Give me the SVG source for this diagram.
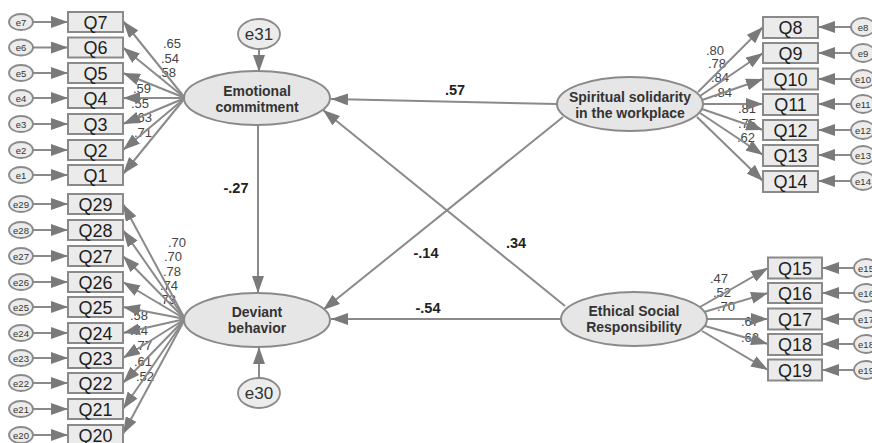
<svg xmlns="http://www.w3.org/2000/svg" width="872" height="443" viewBox="0 0 872 443">
<defs>
<marker id="ah" viewBox="0 0 17 12" refX="17" refY="6" markerWidth="17" markerHeight="12" markerUnits="userSpaceOnUse" orient="auto">
<path d="M0,0 L17,6 L0,12 z" fill="#7a7a7a"/>
</marker>
<style>
.c line{stroke:#8a8a8a;stroke-width:2;marker-end:url(#ah);fill:none}
.box{fill:#ebebeb;stroke:#8a8a8a;stroke-width:2}
.bt{font-family:"Liberation Sans",Arial,sans-serif;font-size:18px;fill:#1e1e1e;text-anchor:middle}
.err{fill:#ececec;stroke:#8a8a8a;stroke-width:1.8}
.et{font-family:"Liberation Sans",Arial,sans-serif;font-size:9.5px;fill:#333;text-anchor:middle}
.eb{font-family:"Liberation Sans",Arial,sans-serif;font-size:17px;fill:#333;text-anchor:middle}
.lat{fill:#e6e6e6;stroke:#8a8a8a;stroke-width:2}
.lt{font-family:"Liberation Sans",Arial,sans-serif;font-size:14px;font-weight:bold;fill:#333;text-anchor:middle}
.ld{font-family:"Liberation Sans",Arial,sans-serif;font-size:13px;fill:#444;text-anchor:middle}
.sd{font-family:"Liberation Sans",Arial,sans-serif;font-size:14.5px;font-weight:bold;fill:#222;text-anchor:middle}
</style>
</defs>
<rect width="872" height="443" fill="#ffffff"/>

<g id="loading-labels">
<text class="ld" x="172" y="48">.65</text>
<text class="ld" x="170" y="63">.54</text>
<text class="ld" x="167" y="77">.58</text>
<text class="ld" x="142" y="93">.59</text>
<text class="ld" x="140" y="108">.55</text>
<text class="ld" x="143" y="122">.63</text>
<text class="ld" x="143" y="137">.71</text>
<text class="ld" x="177" y="247">.70</text>
<text class="ld" x="173" y="261">.70</text>
<text class="ld" x="172" y="276">.78</text>
<text class="ld" x="169" y="290">.74</text>
<text class="ld" x="167" y="304">.73</text>
<text class="ld" x="139" y="320">.58</text>
<text class="ld" x="139" y="335">.74</text>
<text class="ld" x="143" y="350">.77</text>
<text class="ld" x="143" y="366">.61</text>
<text class="ld" x="145" y="381">.52</text>
<text class="ld" x="715" y="55">.80</text>
<text class="ld" x="717" y="68">.78</text>
<text class="ld" x="720" y="82">.84</text>
<text class="ld" x="723" y="97">.84</text>
<text class="ld" x="747" y="113">.81</text>
<text class="ld" x="747" y="128">.75</text>
<text class="ld" x="746" y="142">.62</text>
<text class="ld" x="719" y="283">.47</text>
<text class="ld" x="722" y="297">.52</text>
<text class="ld" x="726" y="311">.70</text>
<text class="ld" x="750" y="326">.67</text>
<text class="ld" x="750" y="342">.62</text>
</g>

<g id="connectors" class="c">
<line x1="33" y1="22" x2="68" y2="22"/>
<line x1="33" y1="47.5" x2="68" y2="47.5"/>
<line x1="33" y1="73" x2="68" y2="73"/>
<line x1="33" y1="98" x2="68" y2="98"/>
<line x1="33" y1="124" x2="68" y2="124"/>
<line x1="33" y1="150" x2="68" y2="150"/>
<line x1="33" y1="175" x2="68" y2="175"/>
<line x1="33" y1="204" x2="68" y2="204"/>
<line x1="33" y1="230" x2="68" y2="230"/>
<line x1="33" y1="256" x2="68" y2="256"/>
<line x1="33" y1="282" x2="68" y2="282"/>
<line x1="33" y1="307" x2="68" y2="307"/>
<line x1="33" y1="333" x2="68" y2="333"/>
<line x1="33" y1="358" x2="68" y2="358"/>
<line x1="33" y1="383" x2="68" y2="383"/>
<line x1="33" y1="409" x2="68" y2="409"/>
<line x1="33" y1="435" x2="68" y2="435"/>
<line x1="851" y1="27" x2="818" y2="27"/>
<line x1="851" y1="53" x2="818" y2="53"/>
<line x1="851" y1="79" x2="818" y2="79"/>
<line x1="851" y1="104" x2="818" y2="104"/>
<line x1="851" y1="130" x2="818" y2="130"/>
<line x1="851" y1="155" x2="818" y2="155"/>
<line x1="851" y1="181" x2="818" y2="181"/>
<line x1="854" y1="268" x2="822" y2="268"/>
<line x1="854" y1="293" x2="822" y2="293"/>
<line x1="854" y1="319" x2="822" y2="319"/>
<line x1="854" y1="344" x2="822" y2="344"/>
<line x1="854" y1="370" x2="822" y2="370"/>
<line x1="185" y1="98" x2="123" y2="21"/>
<line x1="185" y1="98" x2="123" y2="47.5"/>
<line x1="185" y1="98" x2="123" y2="73"/>
<line x1="185" y1="98" x2="123" y2="98"/>
<line x1="185" y1="98" x2="123" y2="124"/>
<line x1="185" y1="98" x2="123" y2="150"/>
<line x1="185" y1="98" x2="123" y2="174"/>
<line x1="185" y1="319" x2="123" y2="204"/>
<line x1="185" y1="319" x2="123" y2="230"/>
<line x1="185" y1="319" x2="123" y2="256"/>
<line x1="185" y1="319" x2="123" y2="282"/>
<line x1="185" y1="319" x2="123" y2="307"/>
<line x1="185" y1="319" x2="123" y2="333"/>
<line x1="185" y1="319" x2="123" y2="358"/>
<line x1="185" y1="319" x2="123" y2="383"/>
<line x1="185" y1="319" x2="123" y2="409"/>
<line x1="185" y1="319" x2="123" y2="434"/>
<line x1="698" y1="92" x2="763" y2="27"/>
<line x1="700" y1="96" x2="763" y2="53"/>
<line x1="702" y1="100" x2="763" y2="79"/>
<line x1="703" y1="104" x2="763" y2="104"/>
<line x1="702" y1="109" x2="763" y2="130"/>
<line x1="700" y1="113" x2="763" y2="155"/>
<line x1="697" y1="117" x2="763" y2="181"/>
<line x1="700" y1="307" x2="768" y2="268"/>
<line x1="704" y1="312" x2="768" y2="293"/>
<line x1="707" y1="319" x2="768" y2="319"/>
<line x1="705" y1="326" x2="768" y2="344"/>
<line x1="702" y1="331" x2="768" y2="370"/>
<line x1="259" y1="49" x2="259" y2="72"/>
<line x1="259" y1="378" x2="259" y2="347"/>
<line x1="557" y1="104" x2="331" y2="99"/>
<line x1="258" y1="125" x2="258" y2="293"/>
<line x1="565" y1="306" x2="323" y2="110"/>
<line x1="563" y1="117" x2="323" y2="310"/>
<line x1="561" y1="319" x2="331" y2="319"/>
</g>

<g id="path-labels">
<text class="sd" x="455" y="95">.57</text>
<text class="sd" x="236" y="193">-.27</text>
<text class="sd" x="426" y="258">-.14</text>
<text class="sd" x="516" y="248">.34</text>
<text class="sd" x="428" y="313">-.54</text>
</g>

<g id="emotional"><ellipse class="lat" cx="257" cy="98" rx="73" ry="27"/><text class="lt" x="257" y="96">Emotional</text><text class="lt" x="257" y="112">commitment</text></g>
<g id="deviant"><ellipse class="lat" cx="257" cy="320" rx="73" ry="27"/><text class="lt" x="257" y="317">Deviant</text><text class="lt" x="257" y="333">behavior</text></g>
<g id="spiritual"><ellipse class="lat" cx="630" cy="104" rx="73" ry="27"/><text class="lt" x="630" y="102">Spiritual solidarity</text><text class="lt" x="630" y="118">in the workplace</text></g>
<g id="ethical"><ellipse class="lat" cx="634" cy="319" rx="73" ry="27"/><text class="lt" x="634" y="316">Ethical Social</text><text class="lt" x="634" y="332">Responsibility</text></g>

<g id="e31"><ellipse class="err" cx="259" cy="34" rx="21" ry="15"/><text class="eb" x="259" y="40">e31</text></g>
<g id="e30"><ellipse class="err" cx="259" cy="393" rx="21" ry="15"/><text class="eb" x="259" y="399">e30</text></g>

<g id="Q7"><rect class="box" x="68" y="12" width="55" height="20"/><text class="bt" x="95.5" y="28.5">Q7</text></g>
<g id="Q6"><rect class="box" x="68" y="37.5" width="55" height="20"/><text class="bt" x="95.5" y="54">Q6</text></g>
<g id="Q5"><rect class="box" x="68" y="63" width="55" height="20"/><text class="bt" x="95.5" y="79.5">Q5</text></g>
<g id="Q4"><rect class="box" x="68" y="88" width="55" height="20"/><text class="bt" x="95.5" y="104.5">Q4</text></g>
<g id="Q3"><rect class="box" x="68" y="114" width="55" height="20"/><text class="bt" x="95.5" y="130.5">Q3</text></g>
<g id="Q2"><rect class="box" x="68" y="140" width="55" height="20"/><text class="bt" x="95.5" y="156.5">Q2</text></g>
<g id="Q1"><rect class="box" x="68" y="165" width="55" height="20"/><text class="bt" x="95.5" y="181.5">Q1</text></g>

<g id="Q29"><rect class="box" x="68" y="194" width="55" height="20"/><text class="bt" x="95.5" y="210.5">Q29</text></g>
<g id="Q28"><rect class="box" x="68" y="220" width="55" height="20"/><text class="bt" x="95.5" y="236.5">Q28</text></g>
<g id="Q27"><rect class="box" x="68" y="246" width="55" height="20"/><text class="bt" x="95.5" y="262.5">Q27</text></g>
<g id="Q26"><rect class="box" x="68" y="272" width="55" height="20"/><text class="bt" x="95.5" y="288.5">Q26</text></g>
<g id="Q25"><rect class="box" x="68" y="297" width="55" height="20"/><text class="bt" x="95.5" y="313.5">Q25</text></g>
<g id="Q24"><rect class="box" x="68" y="323" width="55" height="20"/><text class="bt" x="95.5" y="339.5">Q24</text></g>
<g id="Q23"><rect class="box" x="68" y="348" width="55" height="20"/><text class="bt" x="95.5" y="364.5">Q23</text></g>
<g id="Q22"><rect class="box" x="68" y="373" width="55" height="20"/><text class="bt" x="95.5" y="389.5">Q22</text></g>
<g id="Q21"><rect class="box" x="68" y="399" width="55" height="20"/><text class="bt" x="95.5" y="415.5">Q21</text></g>
<g id="Q20"><rect class="box" x="68" y="425" width="55" height="20"/><text class="bt" x="95.5" y="441.5">Q20</text></g>

<g id="Q8"><rect class="box" x="763" y="17" width="55" height="21"/><text class="bt" x="790.5" y="34">Q8</text></g>
<g id="Q9"><rect class="box" x="763" y="43" width="55" height="20"/><text class="bt" x="790.5" y="59.5">Q9</text></g>
<g id="Q10"><rect class="box" x="763" y="68.5" width="55" height="21"/><text class="bt" x="790.5" y="85.5">Q10</text></g>
<g id="Q11"><rect class="box" x="763" y="94" width="55" height="21"/><text class="bt" x="790.5" y="111">Q11</text></g>
<g id="Q12"><rect class="box" x="763" y="120" width="55" height="20"/><text class="bt" x="790.5" y="136.5">Q12</text></g>
<g id="Q13"><rect class="box" x="763" y="145" width="55" height="21"/><text class="bt" x="790.5" y="162">Q13</text></g>
<g id="Q14"><rect class="box" x="763" y="171" width="55" height="21"/><text class="bt" x="790.5" y="188">Q14</text></g>

<g id="Q15"><rect class="box" x="768" y="257.5" width="54" height="21"/><text class="bt" x="795" y="274.5">Q15</text></g>
<g id="Q16"><rect class="box" x="768" y="283" width="54" height="20"/><text class="bt" x="795" y="299.5">Q16</text></g>
<g id="Q17"><rect class="box" x="768" y="308.5" width="54" height="21"/><text class="bt" x="795" y="325.5">Q17</text></g>
<g id="Q18"><rect class="box" x="768" y="334" width="54" height="21"/><text class="bt" x="795" y="351">Q18</text></g>
<g id="Q19"><rect class="box" x="768" y="359.5" width="54" height="21"/><text class="bt" x="795" y="376.5">Q19</text></g>

<g id="e7"><ellipse class="err" cx="21" cy="22" rx="12" ry="8"/><text class="et" x="21" y="25.5">e7</text></g>
<g id="e6"><ellipse class="err" cx="21" cy="47.5" rx="12" ry="8"/><text class="et" x="21" y="51">e6</text></g>
<g id="e5"><ellipse class="err" cx="21" cy="73" rx="12" ry="8"/><text class="et" x="21" y="76.5">e5</text></g>
<g id="e4"><ellipse class="err" cx="21" cy="98" rx="12" ry="8"/><text class="et" x="21" y="101.5">e4</text></g>
<g id="e3"><ellipse class="err" cx="21" cy="124" rx="12" ry="8"/><text class="et" x="21" y="127.5">e3</text></g>
<g id="e2"><ellipse class="err" cx="21" cy="150" rx="12" ry="8"/><text class="et" x="21" y="153.5">e2</text></g>
<g id="e1"><ellipse class="err" cx="21" cy="175" rx="12" ry="8"/><text class="et" x="21" y="178.5">e1</text></g>

<g id="e29"><ellipse class="err" cx="21" cy="204" rx="12" ry="8"/><text class="et" x="21" y="207.5">e29</text></g>
<g id="e28"><ellipse class="err" cx="21" cy="230" rx="12" ry="8"/><text class="et" x="21" y="233.5">e28</text></g>
<g id="e27"><ellipse class="err" cx="21" cy="256" rx="12" ry="8"/><text class="et" x="21" y="259.5">e27</text></g>
<g id="e26"><ellipse class="err" cx="21" cy="282" rx="12" ry="8"/><text class="et" x="21" y="285.5">e26</text></g>
<g id="e25"><ellipse class="err" cx="21" cy="307" rx="12" ry="8"/><text class="et" x="21" y="310.5">e25</text></g>
<g id="e24"><ellipse class="err" cx="21" cy="333" rx="12" ry="8"/><text class="et" x="21" y="336.5">e24</text></g>
<g id="e23"><ellipse class="err" cx="21" cy="358" rx="12" ry="8"/><text class="et" x="21" y="361.5">e23</text></g>
<g id="e22"><ellipse class="err" cx="21" cy="383" rx="12" ry="8"/><text class="et" x="21" y="386.5">e22</text></g>
<g id="e21"><ellipse class="err" cx="21" cy="409" rx="12" ry="8"/><text class="et" x="21" y="412.5">e21</text></g>
<g id="e20"><ellipse class="err" cx="21" cy="435" rx="12" ry="8"/><text class="et" x="21" y="438.5">e20</text></g>

<g id="e8"><ellipse class="err" cx="863" cy="27" rx="12" ry="9"/><text class="et" x="863" y="30.5">e8</text></g>
<g id="e9"><ellipse class="err" cx="863" cy="53" rx="12" ry="9"/><text class="et" x="863" y="56.5">e9</text></g>
<g id="e10"><ellipse class="err" cx="863" cy="79" rx="12" ry="9"/><text class="et" x="863" y="82.5">e10</text></g>
<g id="e11"><ellipse class="err" cx="863" cy="104" rx="12" ry="9"/><text class="et" x="863" y="107.5">e11</text></g>
<g id="e12"><ellipse class="err" cx="863" cy="130" rx="12" ry="9"/><text class="et" x="863" y="133.5">e12</text></g>
<g id="e13"><ellipse class="err" cx="863" cy="155" rx="12" ry="9"/><text class="et" x="863" y="158.5">e13</text></g>
<g id="e14"><ellipse class="err" cx="863" cy="181" rx="12" ry="9"/><text class="et" x="863" y="184.5">e14</text></g>

<g id="e15"><ellipse class="err" cx="866" cy="268" rx="12" ry="9"/><text class="et" x="866" y="271.5">e15</text></g>
<g id="e16"><ellipse class="err" cx="866" cy="293" rx="12" ry="9"/><text class="et" x="866" y="296.5">e16</text></g>
<g id="e17"><ellipse class="err" cx="866" cy="319" rx="12" ry="9"/><text class="et" x="866" y="322.5">e17</text></g>
<g id="e18"><ellipse class="err" cx="866" cy="344" rx="12" ry="9"/><text class="et" x="866" y="347.5">e18</text></g>
<g id="e19"><ellipse class="err" cx="866" cy="370" rx="12" ry="9"/><text class="et" x="866" y="373.5">e19</text></g>
</svg>
